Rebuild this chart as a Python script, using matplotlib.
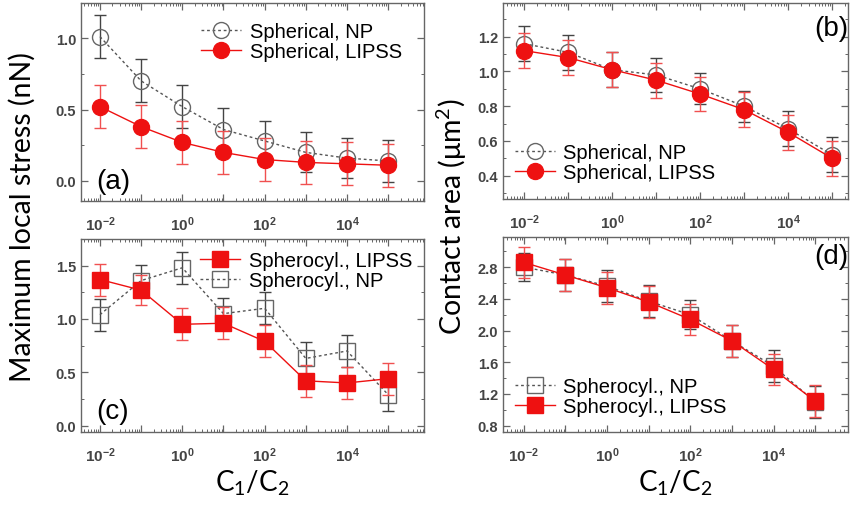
import matplotlib
matplotlib.use("Agg")
import matplotlib.pyplot as plt
import numpy as np
from matplotlib.ticker import MultipleLocator, LogLocator, NullFormatter

# ---- data ----
ratio = [1e-2, 1e-1, 1e0, 1e1, 1e2, 1e3, 1e4, 1e5]

a_np = [1.01, 0.70, 0.52, 0.36, 0.28, 0.20, 0.16, 0.14]
a_np_err = [0.15, 0.15, 0.15, 0.15, 0.14, 0.14, 0.14, 0.15]
a_lipss = [0.52, 0.38, 0.27, 0.20, 0.15, 0.13, 0.12, 0.11]
a_lipss_err = [0.15, 0.15, 0.15, 0.15, 0.15, 0.15, 0.15, 0.15]

b_np = [1.16, 1.11, 1.01, 0.98, 0.90, 0.80, 0.67, 0.52]
b_np_err = [0.10, 0.10, 0.10, 0.10, 0.09, 0.09, 0.10, 0.10]
b_lipss = [1.12, 1.08, 1.01, 0.95, 0.87, 0.78, 0.65, 0.50]
b_lipss_err = [0.10, 0.10, 0.10, 0.10, 0.10, 0.10, 0.10, 0.10]

c_lipss = [1.37, 1.27, 0.95, 0.96, 0.79, 0.42, 0.40, 0.44]
c_lipss_err = [0.15, 0.14, 0.15, 0.15, 0.15, 0.15, 0.15, 0.15]
c_np = [1.04, 1.36, 1.48, 1.05, 1.10, 0.63, 0.70, 0.29]
c_np_err = [0.15, 0.15, 0.15, 0.15, 0.15, 0.15, 0.15, 0.15]

d_lipss = [2.86, 2.70, 2.54, 2.36, 2.14, 1.87, 1.51, 1.11]
d_lipss_err = [0.20, 0.20, 0.20, 0.20, 0.20, 0.20, 0.20, 0.20]
d_np = [2.80, 2.70, 2.56, 2.37, 2.20, 1.87, 1.55, 1.10]
d_np_err = [0.18, 0.20, 0.20, 0.20, 0.18, 0.20, 0.20, 0.20]

x_tick_exps = [-2, 0, 2, 4]

ylabel_left = "Maximum local stress (nN)"
ylabel_right = "Contact area (\u03bcm$\\mathregular{^2}$)"
xlabel = "C$\\mathregular{_1}$/C$\\mathregular{_2}$"

# ---- style ----
RED = "#ee1111"
RED_ERR = "#f05050"
GRAY = "#555555"
FRAME = "#666666"
TICKC = "#444444"

plt.rcParams["font.family"] = ["Liberation Sans", "DejaVu Sans"]
plt.rcParams["mathtext.fontset"] = "custom"
plt.rcParams["mathtext.rm"] = "Liberation Sans:bold"
plt.rcParams["mathtext.it"] = "Liberation Sans:bold"
plt.rcParams["mathtext.bf"] = "Liberation Sans:bold"

fig = plt.figure(figsize=(8.5, 5.06), dpi=100)


def axpos(l, t, r, b):
    W, H = 850.0, 506.0
    return [l / W, 1 - b / H, (r - l) / W, (b - t) / H]


ax_a = fig.add_axes(axpos(81, 4, 424, 202))
ax_b = fig.add_axes(axpos(503, 4, 848, 200))
ax_c = fig.add_axes(axpos(81, 240, 424, 433))
ax_d = fig.add_axes(axpos(503, 238, 848, 433))


def style_axes(ax, xlim, ylim, ymaj, ymin):
    ax.set_xscale("log")
    exps = list(range(-3, 7))
    ax.set_xticks([10.0 ** k for k in exps])
    ax.set_xticklabels(["$10^{%d}$" % k if k in x_tick_exps else "" for k in exps])
    ax.xaxis.set_minor_locator(LogLocator(base=10, subs=np.arange(2, 10), numticks=20))
    ax.xaxis.set_minor_formatter(NullFormatter())
    ax.set_xlim(*xlim)
    ax.set_ylim(*ylim)
    ax.yaxis.set_major_locator(MultipleLocator(ymaj))
    ax.yaxis.set_minor_locator(MultipleLocator(ymin))
    ax.tick_params(which="both", direction="in", top=True, right=True,
                   colors=FRAME, labelcolor=TICKC)
    ax.tick_params(axis="y", labelsize=10.5)
    ax.tick_params(axis="x", labelsize=11, pad=10)
    ax.tick_params(which="major", length=5, width=0.9)
    ax.tick_params(which="minor", length=2.5, width=0.7)
    for lab in ax.get_yticklabels():
        lab.set_fontweight("bold")
    for s in ax.spines.values():
        s.set_color(FRAME)
        s.set_linewidth(1.0)


MS = 11.5


def np_series(ax, y, e, marker, label):
    ax.errorbar(ratio, y, yerr=e, fmt="none", ecolor="#444444", elinewidth=1.0,
                capsize=4, capthick=1.0, zorder=2)
    ax.plot(ratio, y, color=GRAY, linestyle=(0, (2, 2)), linewidth=1.0,
            marker=marker, markersize=MS, markerfacecolor="none",
            markeredgecolor="#666666", markeredgewidth=1.0, label=label, zorder=2)


def lipss_series(ax, y, e, marker, label):
    ax.errorbar(ratio, y, yerr=e, fmt="none", ecolor=RED_ERR, elinewidth=1.0,
                capsize=4, capthick=1.0, zorder=3)
    ax.plot(ratio, y, color=RED, linestyle="-", linewidth=1.0,
            marker=marker, markersize=MS, markerfacecolor=RED,
            markeredgecolor=RED, markeredgewidth=1.0, label=label, zorder=3)


# (a)
np_series(ax_a, a_np, a_np_err, "o", "Spherical, NP")
lipss_series(ax_a, a_lipss, a_lipss_err, "o", "Spherical, LIPSS")
style_axes(ax_a, (10 ** -2.46, 10 ** 5.87), (-0.14, 1.245), 0.5, 0.25)
ax_a.text(0.045, 0.10, "(a)", transform=ax_a.transAxes, fontsize=20,
          ha="left", va="center")

# (b)
np_series(ax_b, b_np, b_np_err, "o", "Spherical, NP")
lipss_series(ax_b, b_lipss, b_lipss_err, "o", "Spherical, LIPSS")
style_axes(ax_b, (10 ** -2.48, 10 ** 5.36), (0.266, 1.394), 0.2, 0.1)
ax_b.text(1.0, 0.875, "(b)", transform=ax_b.transAxes, fontsize=20,
          ha="right", va="center")

# (c)
lipss_series(ax_c, c_lipss, c_lipss_err, "s", "Spherocyl., LIPSS")
np_series(ax_c, c_np, c_np_err, "s", "Spherocyl., NP")
style_axes(ax_c, (10 ** -2.46, 10 ** 5.87), (-0.06, 1.75), 0.5, 0.25)
ax_c.text(0.045, 0.11, "(c)", transform=ax_c.transAxes, fontsize=20,
          ha="left", va="center")

# (d)
np_series(ax_d, d_np, d_np_err, "s", "Spherocyl., NP")
lipss_series(ax_d, d_lipss, d_lipss_err, "s", "Spherocyl., LIPSS")
style_axes(ax_d, (10 ** -2.5, 10 ** 5.79), (0.72, 3.18), 0.4, 0.2)
ax_d.text(1.0, 0.905, "(d)", transform=ax_d.transAxes, fontsize=20,
          ha="right", va="center")

leg_kw = dict(frameon=False, fontsize=14.5, handlelength=2.0, handletextpad=0.4,
              labelspacing=0.05, borderaxespad=0.2)
ax_a.legend(loc="upper right", bbox_to_anchor=(0.97, 0.965), **leg_kw)
ax_b.legend(loc="lower left", bbox_to_anchor=(0.0, 0.025), **leg_kw)
ax_c.legend(loc="upper right", bbox_to_anchor=(1.0, 1.0), **leg_kw)
ax_d.legend(loc="lower left", bbox_to_anchor=(0.0, 0.02), **leg_kw)

lab_font = ["Lato", "DejaVu Sans"]
fig.text(22 / 850, 1 - 217 / 506, ylabel_left, rotation=90, ha="center", va="center",
         fontsize=20.5, family=lab_font)
fig.text(452 / 850, 1 - 217 / 506, ylabel_right, rotation=90, ha="center", va="center",
         fontsize=20.5, family=lab_font)
fig.text(252 / 850, 1 - 483 / 506, xlabel, ha="center", va="center",
         fontsize=20, family=lab_font)
fig.text(675 / 850, 1 - 483 / 506, xlabel, ha="center", va="center",
         fontsize=20, family=lab_font)

fig.savefig("out.png", dpi=100)
